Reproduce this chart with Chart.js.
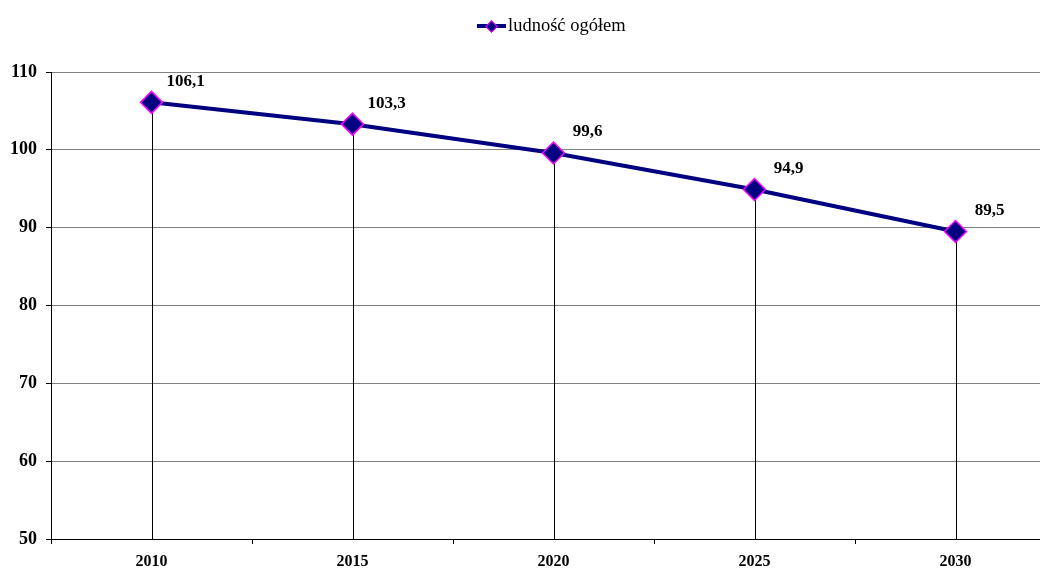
<!DOCTYPE html>
<html>
<head>
<meta charset="utf-8">
<script src="https://cdn.jsdelivr.net/npm/chart.js@4.4.1/dist/chart.umd.min.js"></script>
<style>
  html, body { margin: 0; padding: 0; background: #fff; overflow: hidden; }
  #wrap { position: relative; width: 1040px; height: 568px; overflow: hidden; }
  #chart { position: absolute; left: 0; top: 0; }
  #legend {
    position: absolute; left: 477px; top: 15px;
    font-family: "Liberation Serif", "Times New Roman", serif; font-size: 18.5px;
    display: flex; align-items: center; white-space: nowrap;
  }
  #legend .sample { position: relative; width: 29px; height: 14px; margin-right: 2px; }
  #legend .sample .ln { position: absolute; left: 0; right: 0; top: 5px; height: 4px; background: #000080; }
  #legend .sample .mk {
    position: absolute; left: 10px; top: 3px; width: 7px; height: 7px;
    background: #000080; border: 1px solid #ff00ff; transform: rotate(45deg);
  }
</style>
</head>
<body>
<div id="wrap">
  <canvas id="chart" width="1072" height="568"></canvas>
  <div id="legend"><span class="sample"><span class="ln"></span><span class="mk"></span></span><span id="legendText"></span></div>
</div>
<script>
// dane
const years = ['2010', '2015', '2020', '2025', '2030'];
const ludnosc = [106.1, 103.3, 99.6, 94.9, 89.5];
const seriesName = 'ludność ogółem';
const yTicks = [50, 60, 70, 80, 90, 100, 110];

const serif = '"Liberation Serif", "Times New Roman", serif';
document.getElementById('legendText').textContent = seriesName;

// linie opadające od punktów do osi X
const dropLines = {
  id: 'dropLines',
  beforeDatasetsDraw(chart) {
    const ctx = chart.ctx;
    const bottom = chart.chartArea.bottom;
    ctx.save();
    ctx.strokeStyle = '#000';
    ctx.lineWidth = 1;
    chart.getDatasetMeta(0).data.forEach(pt => {
      const x = Math.round(pt.x) + 0.5;
      ctx.beginPath();
      ctx.moveTo(x, pt.y);
      ctx.lineTo(x, bottom);
      ctx.stroke();
    });
    ctx.restore();
  }
};

// etykiety wartości
const valueLabels = {
  id: 'valueLabels',
  afterDatasetsDraw(chart) {
    const ctx = chart.ctx;
    ctx.save();
    ctx.font = 'bold 17px ' + serif;
    ctx.fillStyle = '#000';
    ctx.textAlign = 'center';
    ctx.textBaseline = 'middle';
    chart.getDatasetMeta(0).data.forEach((pt, i) => {
      const txt = ludnosc[i].toFixed(1).replace('.', ',');
      ctx.fillText(txt, pt.x + 34, pt.y - 21);
    });
    ctx.restore();
  }
};

new Chart(document.getElementById('chart'), {
  type: 'line',
  data: {
    labels: years,
    datasets: [{
      label: seriesName,
      data: ludnosc,
      borderColor: '#000080',
      borderWidth: 4,
      backgroundColor: '#000080',
      pointStyle: 'rectRot',
      pointRadius: 11,
      pointBackgroundColor: '#000080',
      pointBorderColor: '#ff00ff',
      pointBorderWidth: 1.5,
      tension: 0,
      fill: false
    }]
  },
  options: {
    responsive: false,
    animation: false,
    layout: { padding: { top: 72, right: 16, left: 0, bottom: 0 } },
    plugins: {
      legend: { display: false },
      tooltip: { enabled: false }
    },
    scales: {
      x: {
        offset: true,
        grid: { offset: true, drawOnChartArea: false, tickLength: 5, color: '#000' },
        border: { color: '#000', width: 1 },
        ticks: {
          font: { family: serif, size: 16, weight: 'bold' },
          color: '#000',
          padding: 8,
          maxRotation: 0
        },
        afterFit(s) { s.height = 29; }
      },
      y: {
        min: 50,
        max: 110,
        afterBuildTicks(s) { s.ticks = yTicks.map(v => ({ value: v })); },
        grid: { color: '#808080', tickLength: 5, tickColor: '#000' },
        border: { color: '#000', width: 1 },
        ticks: {
          font: { family: serif, size: 18, weight: 'bold' },
          color: '#000',
          padding: 9
        },
        afterFit(s) { s.width = 51; }
      }
    }
  },
  plugins: [dropLines, valueLabels]
});
</script>
</body>
</html>
